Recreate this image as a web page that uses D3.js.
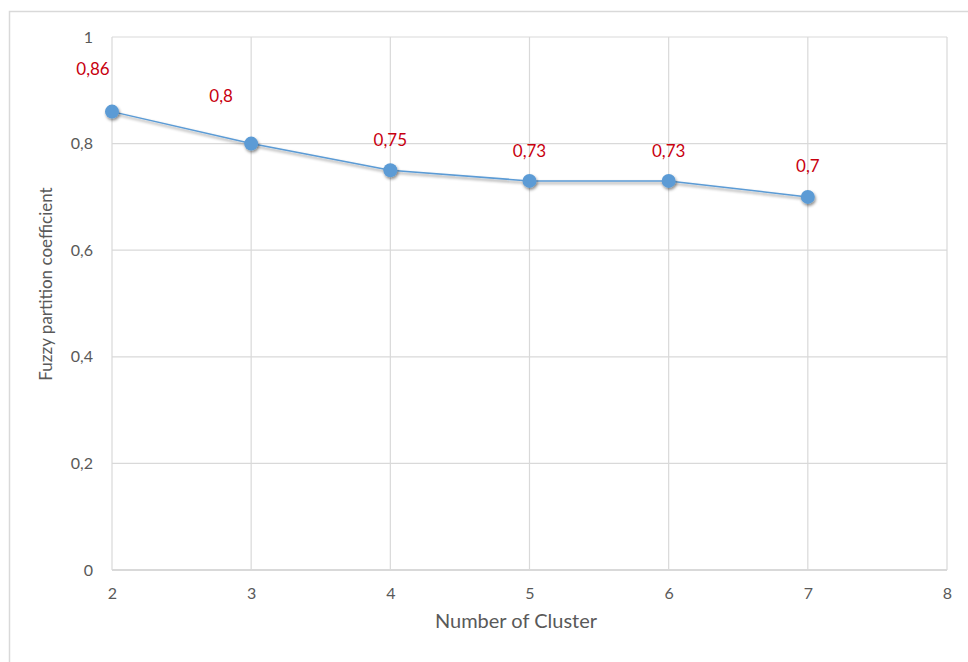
<!DOCTYPE html>
<html><head><meta charset="utf-8">
<script src="https://cdn.jsdelivr.net/npm/d3@7/dist/d3.min.js"></script>
<style>body{margin:0;background:#fff;} svg{display:block;font-family:Lato,"Open Sans",sans-serif;}</style>
</head><body>
<svg id="c" width="968" height="662"></svg>
<script>
const clusters = [2, 3, 4, 5, 6, 7];
const fpc = [0.86, 0.8, 0.75, 0.73, 0.73, 0.7];
const labels = ["0,86", "0,8", "0,75", "0,73", "0,73", "0,7"];
const xTicks = [2, 3, 4, 5, 6, 7, 8];
const yTicks = [0, 0.2, 0.4, 0.6, 0.8, 1];
const yTickLabels = ["0", "0,2", "0,4", "0,6", "0,8", "1"];
// label offsets (dx, dy) relative to point
const labelOffsets = [[-19, -37], [-30, -42], [0, -24], [0, -24], [0, -24], [0, -25]];

const svg = d3.select("#c");
const m = {l: 112, r: 947, t: 37, b: 570};
const x = d3.scaleLinear().domain([2, 8]).range([m.l, m.r]);
const y = d3.scaleLinear().domain([0, 1]).range([m.b, m.t]);

svg.append("rect").attr("x", 9.5).attr("y", 11.5).attr("width", 1000).attr("height", 700)
  .attr("fill", "none").attr("stroke", "#d9d9d9").attr("stroke-width", 1.5);

const grid = svg.append("g");
grid.selectAll("line.h").data(yTicks).join("line")
  .attr("x1", m.l).attr("x2", m.r).attr("y1", d => y(d)).attr("y2", d => y(d))
  .attr("stroke", "#d9d9d9").attr("stroke-width", d => d === 0 ? 2 : 1.2);
grid.selectAll("line.v").data(xTicks).join("line")
  .attr("y1", m.t).attr("y2", m.b).attr("x1", d => x(d)).attr("x2", d => x(d))
  .attr("stroke", "#d9d9d9").attr("stroke-width", 1.2);

const yAxis = d3.axisLeft(y).tickValues(yTicks).tickFormat((d, i) => yTickLabels[i]).tickSize(0).tickPadding(19);
svg.append("g").attr("transform", `translate(${m.l},0)`).call(yAxis)
  .call(g => g.select(".domain").remove())
  .selectAll("text").attr("font-size", 16).attr("fill", "#595959").attr("font-family", "Lato,sans-serif");

const xAxis = d3.axisBottom(x).tickValues(xTicks).tickFormat(d => d).tickSize(0).tickPadding(18);
svg.append("g").attr("transform", `translate(0,${m.b})`).call(xAxis)
  .call(g => g.select(".domain").remove())
  .selectAll("text").attr("font-size", 16).attr("fill", "#595959").attr("font-family", "Lato,sans-serif");

const defs = svg.append("defs");
const f = defs.append("filter").attr("id", "sh").attr("x", "-50%").attr("y", "-50%").attr("width", "200%").attr("height", "200%");
f.append("feDropShadow").attr("dx", 1).attr("dy", 2).attr("stdDeviation", 1.8).attr("flood-color", "#000").attr("flood-opacity", 0.45);

const pts = clusters.map((c, i) => ({c, v: fpc[i], l: labels[i], o: labelOffsets[i]}));
svg.append("path").datum(pts)
  .attr("d", d3.line().x(d => x(d.c)).y(d => y(d.v)))
  .attr("fill", "none").attr("stroke", "#5b9bd5").attr("stroke-width", 1.5)
  .attr("filter", "url(#sh)");
svg.selectAll("circle.p").data(pts).join("circle")
  .attr("cx", d => x(d.c)).attr("cy", d => y(d.v)).attr("r", 7)
  .attr("fill", "#5b9bd5").attr("filter", "url(#sh)");
svg.selectAll("text.dl").data(pts).join("text")
  .attr("x", d => x(d.c) + d.o[0]).attr("y", d => y(d.v) + d.o[1])
  .attr("text-anchor", "middle").attr("font-size", 17).attr("fill", "#c8000f")
  .text(d => d.l);

svg.append("text").attr("x", 516).attr("y", 628).attr("text-anchor", "middle")
  .attr("font-size", 20).attr("fill", "#595959").text("Number of Cluster");
svg.append("text").attr("transform", `translate(52,284) rotate(-90)`).attr("text-anchor", "middle")
  .attr("font-size", 17).attr("fill", "#595959").text("Fuzzy partition coefficient");
</script>
</body></html>
